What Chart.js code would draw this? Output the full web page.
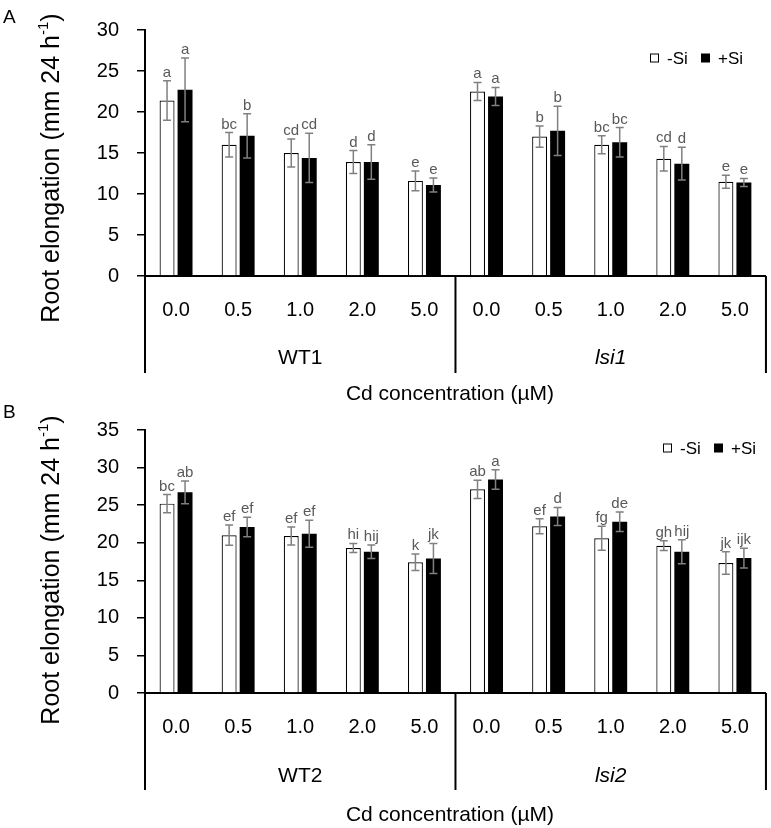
<!DOCTYPE html>
<html>
<head>
<meta charset="utf-8">
<script src="https://cdn.jsdelivr.net/npm/chart.js@4.4.1/dist/chart.umd.min.js"></script>
<style>
  body { margin: 0; background: #fff; width: 771px; height: 828px; position: relative; overflow: hidden; }
  canvas { position: absolute; left: 0; }
  #chartA { top: 0; }
  #chartB { top: 400px; }
</style>
</head>
<body>
<canvas id="chartA" width="771" height="410"></canvas>
<canvas id="chartB" width="771" height="428"></canvas>
<script>
// x categories (Cd, µM) — same for both panels
const concentrations = ["0.0", "0.5", "1.0", "2.0", "5.0", "0.0", "0.5", "1.0", "2.0", "5.0"];

// Panel A: WT1 / lsi1
const genotypesA = ["WT1", "lsi1"];
const minusSiA = [21.4, 16.0, 15.0, 13.9, 11.6, 22.5, 17.0, 16.0, 14.3, 11.5];
const minusSiErrA = [2.4, 1.5, 1.7, 1.4, 1.2, 1.1, 1.3, 1.1, 1.5, 0.8];
const plusSiA = [22.7, 17.1, 14.4, 13.9, 11.1, 21.9, 17.7, 16.3, 13.7, 11.4];
const plusSiErrA = [3.9, 2.7, 3.0, 2.1, 0.85, 1.1, 3.0, 1.8, 2.0, 0.5];
const minusSiLettersA = ["a", "bc", "cd", "d", "e", "a", "b", "bc", "cd", "e"];
const plusSiLettersA = ["a", "b", "cd", "d", "e", "a", "b", "bc", "d", "e"];
const yMaxA = 30;

// Panel B: WT2 / lsi2
const genotypesB = ["WT2", "lsi2"];
const minusSiB = [25.2, 21.0, 20.9, 19.3, 17.4, 27.1, 22.2, 20.6, 19.6, 17.3];
const minusSiErrB = [1.2, 1.35, 1.2, 0.6, 1.1, 1.2, 1.0, 1.6, 0.65, 1.5];
const plusSiB = [26.7, 22.1, 21.2, 18.8, 17.9, 28.4, 23.5, 22.8, 18.8, 17.95];
const plusSiErrB = [1.5, 1.3, 1.8, 0.9, 2.0, 1.3, 1.2, 1.3, 1.6, 1.3];
const minusSiLettersB = ["bc", "ef", "ef", "hi", "k", "ab", "ef", "fg", "gh", "jk"];
const plusSiLettersB = ["ab", "ef", "ef", "hij", "jk", "a", "d", "de", "hij", "ijk"];
const yMaxB = 35;

const FONT = '"Liberation Sans", Arial, sans-serif';

// error bars, letters, grouped x labels, legend and titles
const extrasPlugin = {
  id: "extras",
  afterDatasetsDraw(chart) {
    const ctx = chart.ctx;
    const y = chart.scales.y;
    const ex = chart.options.plugins.extras;
    ctx.save();
    chart.data.datasets.forEach((ds, i) => {
      const meta = chart.getDatasetMeta(i);
      meta.data.forEach((bar, j) => {
        const v = ds.data[j], e = ex.errors[i][j];
        const top = y.getPixelForValue(v + e);
        const bot = y.getPixelForValue(v - e);
        ctx.strokeStyle = "#808080";
        ctx.lineWidth = 1.5;
        ctx.beginPath();
        ctx.moveTo(bar.x, top); ctx.lineTo(bar.x, bot);
        ctx.moveTo(bar.x - 4, top); ctx.lineTo(bar.x + 4, top);
        ctx.moveTo(bar.x - 4, bot); ctx.lineTo(bar.x + 4, bot);
        ctx.stroke();
        ctx.fillStyle = "#595959";
        ctx.font = "15px " + FONT;
        ctx.textAlign = "center";
        ctx.textBaseline = "alphabetic";
        ctx.fillText(ex.letters[i][j], bar.x, top - 4);
      });
    });
    ctx.restore();
  },
  afterDraw(chart) {
    const ctx = chart.ctx;
    const x = chart.scales.x;
    const area = chart.chartArea;
    const ex = chart.options.plugins.extras;
    const base = area.bottom;
    ctx.save();
    // group dividers
    const mid = (x.getPixelForValue(4) + x.getPixelForValue(5)) / 2;
    ctx.strokeStyle = "#000";
    ctx.lineWidth = 2;
    ctx.beginPath();
    [area.left, mid, area.right].forEach(px => {
      ctx.moveTo(px, base);
      ctx.lineTo(px, base + ex.dividerLen);
    });
    ctx.stroke();
    // group labels
    ctx.fillStyle = "#000";
    ctx.textAlign = "center";
    ctx.textBaseline = "middle";
    ctx.font = "21px " + FONT;
    ctx.fillText(ex.groups[0], (area.left + mid) / 2, base + ex.groupY);
    ctx.font = "italic 21px " + FONT;
    ctx.fillText(ex.groups[1], (mid + area.right) / 2, base + ex.groupY);
    // x title
    ctx.font = "21px " + FONT;
    ctx.fillText("Cd concentration (\u00B5M)", 450, base + ex.titleY);
    // panel letter
    ctx.textAlign = "left";
    ctx.font = "19px " + FONT;
    ctx.fillText(ex.panel, 3, ex.panelY);
    // legend
    const lg = ex.legend;
    ctx.font = "17px " + FONT;
    ctx.lineWidth = 1;
    ctx.fillStyle = "#fff";
    ctx.fillRect(lg.x, lg.y - 4.5, 9, 9);
    ctx.strokeRect(lg.x + 0.5, lg.y - 4, 8, 8);
    ctx.fillStyle = "#000";
    ctx.fillText("-Si", lg.x + 17, lg.y + 1);
    ctx.fillRect(lg.x + 51, lg.y - 4.5, 9, 9);
    ctx.fillText("+Si", lg.x + 68, lg.y + 1);
    // y title with superscript
    ctx.translate(52, ex.yTitleY);
    ctx.rotate(-Math.PI / 2);
    const main = "Root elongation (mm 24 h";
    ctx.font = "25px " + FONT;
    const w1 = ctx.measureText(main).width;
    const w3 = ctx.measureText(")").width;
    ctx.font = "15px " + FONT;
    const w2 = ctx.measureText("-1").width;
    let sx = -(w1 + w2 + w3) / 2;
    ctx.font = "25px " + FONT;
    ctx.fillText(main, sx, 0);
    ctx.font = "15px " + FONT;
    ctx.fillText("-1", sx + w1, -8);
    ctx.font = "25px " + FONT;
    ctx.fillText(")", sx + w1 + w2, 0);
    ctx.restore();
  }
};

function makeChart(id, canvasH, axisY, yMax, minus, plus, minusErr, plusErr, minusLet, plusLet, groups, extra) {
  const ctx = document.getElementById(id).getContext("2d");
  return new Chart(ctx, {
    type: "bar",
    data: {
      labels: concentrations,
      datasets: [
        {
          label: "-Si",
          data: minus,
          backgroundColor: "#fff",
          borderColor: "#000",
          borderWidth: 1.2,
          borderSkipped: "bottom",
        },
        {
          label: "+Si",
          data: plus,
          backgroundColor: "#000",
          borderColor: "#000",
          borderWidth: 0,
        },
      ],
    },
    options: {
      responsive: false,
      animation: false,
      categoryPercentage: 0.58,
      barPercentage: 0.83,
      layout: { padding: { top: 15, right: 4, left: 0, bottom: 0 } },
      plugins: {
        legend: { display: false },
        tooltip: { enabled: false },
        extras: Object.assign({
          errors: [minusErr, plusErr],
          letters: [minusLet, plusLet],
          groups: groups,
        }, extra),
      },
      scales: {
        x: {
          afterFit: s => { s.height = canvasH - axisY; },
          grid: { display: false, drawTicks: false },
          border: { display: true, color: "#000", width: 2 },
          ticks: { color: "#000", font: { family: FONT, size: 20 }, padding: 22, maxRotation: 0 },
        },
        y: {
          min: 0,
          max: yMax,
          afterFit: s => { s.width = 145; },
          grid: { drawOnChartArea: false, drawTicks: true, tickLength: 8, color: "#000", lineWidth: 1.5 },
          border: { display: true, color: "#000", width: 2 },
          ticks: { stepSize: 5, color: "#000", font: { family: FONT, size: 20 }, padding: 18 },
        },
      },
    },
    plugins: [extrasPlugin],
  });
}

makeChart("chartA", 410, 276, yMaxA, minusSiA, plusSiA, minusSiErrA, plusSiErrA,
  minusSiLettersA, plusSiLettersA, genotypesA,
  { dividerLen: 97, groupY: 82, titleY: 118, panel: "A", panelY: 18,
    legend: { x: 650, y: 58 }, yTitleY: 168 });

makeChart("chartB", 428, 293, yMaxB, minusSiB, plusSiB, minusSiErrB, plusSiErrB,
  minusSiLettersB, plusSiLettersB, genotypesB,
  { dividerLen: 97, groupY: 83, titleY: 122, panel: "B", panelY: 13,
    legend: { x: 663, y: 48 }, yTitleY: 170 });
</script>
</body>
</html>
